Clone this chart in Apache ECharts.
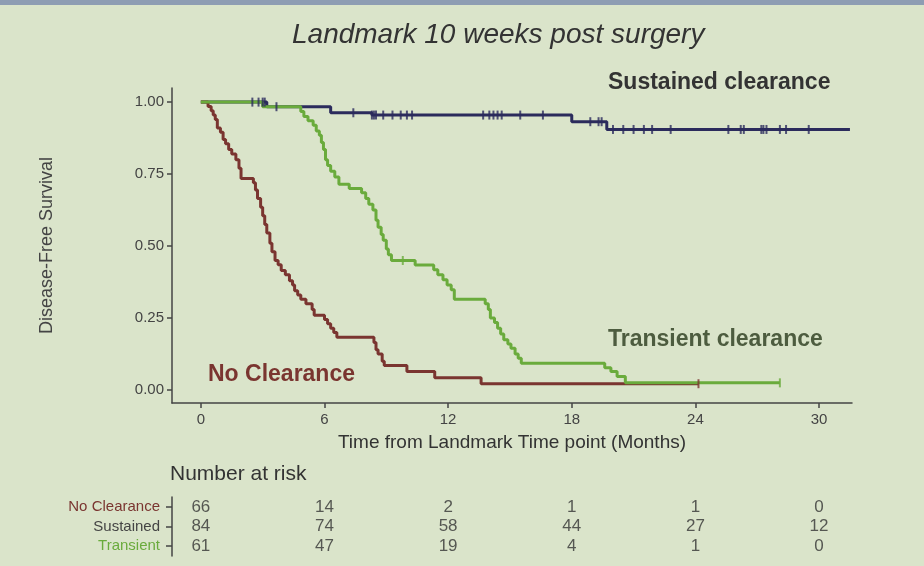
<!DOCTYPE html>
<html>
<head>
<meta charset="utf-8">
<script src="https://cdn.jsdelivr.net/npm/echarts@6/dist/echarts.min.js"></script>
<style>
  html, body { margin: 0; padding: 0; background: #d9e3c9; }
  #chart { width: 924px; height: 566px; }
</style>
</head>
<body>
<div id="chart"></div>
<script>
// Kaplan-Meier step data
const noClearanceTime = [0, 0.35, 0.5, 0.6, 0.7, 0.8, 0.95, 1.08, 1.2, 1.35, 1.5, 1.7, 1.85, 1.95, 2.55, 2.65, 2.75, 2.9, 3.0, 3.1, 3.2, 3.35, 3.45, 3.6, 3.75, 3.9, 4.1, 4.3, 4.45, 4.55, 4.7, 4.85, 5.1, 5.4, 5.5, 6.0, 6.15, 6.3, 6.45, 6.6, 8.4, 8.5, 8.6, 8.8, 8.9, 10.0, 11.35, 13.6, 24.15];
const noClearanceSurv = [1, 0.985, 0.97, 0.955, 0.94, 0.91, 0.895, 0.87, 0.855, 0.835, 0.82, 0.8, 0.77, 0.735, 0.72, 0.695, 0.665, 0.635, 0.605, 0.575, 0.545, 0.51, 0.48, 0.45, 0.435, 0.415, 0.4, 0.38, 0.365, 0.345, 0.33, 0.315, 0.3, 0.28, 0.26, 0.245, 0.23, 0.215, 0.2, 0.183, 0.165, 0.14, 0.125, 0.1, 0.085, 0.064, 0.043, 0.022, 0.022];

const sustainedTime = [0, 3.2, 6.3, 8.3, 18.0, 19.7, 31.5];
const sustainedSurv = [1, 0.984, 0.963, 0.955, 0.932, 0.905, 0.905];

const transientTime = [0, 3.0, 4.85, 5.0, 5.2, 5.45, 5.6, 5.75, 5.85, 5.95, 6.05, 6.15, 6.3, 6.5, 6.7, 7.2, 7.8, 8.0, 8.15, 8.35, 8.5, 8.6, 8.75, 8.85, 9.0, 9.1, 9.25, 10.4, 11.3, 11.5, 11.75, 11.95, 12.15, 12.3, 13.8, 13.95, 14.05, 14.25, 14.4, 14.55, 14.7, 14.9, 15.05, 15.25, 15.4, 15.55, 19.6, 19.9, 20.2, 20.6, 28.1];
const transientSurv = [1, 0.984, 0.967, 0.95, 0.935, 0.92, 0.9, 0.885, 0.86, 0.835, 0.8, 0.78, 0.76, 0.74, 0.715, 0.7, 0.685, 0.665, 0.645, 0.625, 0.59, 0.565, 0.54, 0.52, 0.49, 0.47, 0.45, 0.434, 0.418, 0.4, 0.383, 0.365, 0.348, 0.315, 0.3, 0.28, 0.25, 0.235, 0.215, 0.195, 0.175, 0.16, 0.145, 0.125, 0.11, 0.093, 0.077, 0.064, 0.047, 0.025, 0.025];

// censoring times
const noClearanceCensor = [24.15];
const sustainedCensor = [2.5, 2.8, 3.0, 3.1, 3.67, 7.4, 8.3, 8.4, 8.5, 8.85, 9.3, 9.7, 10.0, 10.25, 13.7, 14.0, 14.2, 14.4, 14.6, 15.5, 16.6, 18.9, 19.3, 19.45, 20.0, 20.5, 21.0, 21.5, 21.9, 22.8, 25.6, 26.2, 26.35, 27.2, 27.3, 27.45, 28.1, 28.4, 29.5];
const transientCensor = [9.8, 28.1];

// number at risk table
const riskMonths = [0, 6, 12, 18, 24, 30];
const riskGroups = ['No Clearance', 'Sustained', 'Transient'];
const riskNoClearance = [66, 14, 2, 1, 1, 0];
const riskSustained = [84, 74, 58, 44, 27, 12];
const riskTransient = [61, 47, 19, 4, 1, 0];

const xTicks = [0, 6, 12, 18, 24, 30];
const yTicks = [0, 0.25, 0.5, 0.75, 1];

const RED = '#7a3530', NAVY = '#2b2b5c', GREEN = '#6aab3c';
const FONT = "'Liberation Sans', Arial, sans-serif";

function pairs(t, s) { return t.map((v, i) => [v, s[i]]); }
function survAt(t, s, x) {
  let v = s[0];
  for (let i = 0; i < t.length; i++) if (t[i] <= x) v = s[i];
  return v;
}
function censorPts(c, t, s) { return c.map(x => [x, survAt(t, s, x)]); }

const riskRows = [riskNoClearance, riskSustained, riskTransient];
const riskData = [];
riskGroups.forEach((g, gi) => riskMonths.forEach((m, i) => riskData.push([m, g, riskRows[gi][i]])));

const X_MIN = -1.4, X_MAX = 31.6;

function kmLine(name, t, s, color, z) {
  return { name, type: 'line', step: 'end', data: pairs(t, s), symbol: 'none', z,
    lineStyle: { color, width: 3 }, animation: false };
}
function censor(c, t, s, color, z) {
  return { type: 'scatter', data: censorPts(c, t, s), symbol: 'rect', symbolSize: [2, 9], z,
    itemStyle: { color }, animation: false };
}

const chart = echarts.init(document.getElementById('chart'));
chart.setOption({
  backgroundColor: '#dae4ca',
  animation: false,
  title: {
    text: 'Landmark 10 weeks post surgery',
    left: 287, top: 16,
    textStyle: { fontFamily: FONT, fontStyle: 'italic', fontWeight: 'normal', fontSize: 28, color: '#333' }
  },
  graphic: [
    { type: 'rect', left: 0, top: 0, shape: { width: 924, height: 5 }, style: { fill: '#8e9db3' } },
    { type: 'text', left: 608, top: 71, style: { text: 'Sustained clearance', font: "bold 23px 'Liberation Sans', Arial", fill: '#333' } },
    { type: 'text', left: 608, top: 328, style: { text: 'Transient clearance', font: "bold 23px 'Liberation Sans', Arial", fill: '#4d5c3f' } },
    { type: 'text', left: 208, top: 363, style: { text: 'No Clearance', font: "bold 23px 'Liberation Sans', Arial", fill: RED } },
    { type: 'text', left: 170, top: 464, style: { text: 'Number at risk', font: "21px 'Liberation Sans', Arial", fill: '#333' } }
  ],
  grid: [
    { left: 172, right: 72, top: 88, bottom: 163 },
    { left: 172, right: 72, top: 497, height: 59 }
  ],
  xAxis: [
    {
      type: 'value', gridIndex: 0, min: X_MIN, max: X_MAX,
      name: 'Time from Landmark Time point (Months)', nameLocation: 'middle', nameGap: 30,
      nameTextStyle: { fontFamily: FONT, fontSize: 19, color: '#333' },
      splitLine: { show: false },
      axisLine: { onZero: false, lineStyle: { color: '#444', width: 1.5 } },
      axisTick: { customValues: xTicks, length: 5, lineStyle: { color: '#444', width: 1.5 } },
      axisLabel: { customValues: xTicks, fontFamily: FONT, fontSize: 15, color: '#444', margin: 9 }
    },
    { type: 'value', gridIndex: 1, min: X_MIN, max: X_MAX, show: false }
  ],
  yAxis: [
    {
      type: 'value', gridIndex: 0, min: -0.045, max: 1.049,
      name: 'Disease-Free Survival', nameLocation: 'middle', nameGap: 116, nameRotate: 90,
      nameTextStyle: { fontFamily: FONT, fontSize: 18, color: '#444' },
      splitLine: { show: false },
      axisLine: { show: true, onZero: false, lineStyle: { color: '#444', width: 1.5 } },
      axisTick: { show: true, customValues: yTicks, length: 5, lineStyle: { color: '#444', width: 1.5 } },
      axisLabel: { customValues: yTicks, formatter: v => v.toFixed(2), fontFamily: FONT, fontSize: 15, color: '#444', margin: 8 }
    },
    {
      type: 'category', gridIndex: 1, data: riskGroups, inverse: true,
      axisLine: { show: true, onZero: false, lineStyle: { color: '#444', width: 1.5 } },
      axisTick: { show: true, alignWithLabel: true, interval: 0, length: 6, lineStyle: { color: '#444', width: 1.5 } },
      axisLabel: {
        margin: 12, interval: 0, fontFamily: FONT, fontSize: 15,
        formatter: v => '{' + ['nc', 'su', 'tr'][riskGroups.indexOf(v)] + '|' + v + '}',
        rich: {
          nc: { color: RED, fontFamily: FONT, fontSize: 15 },
          su: { color: '#444', fontFamily: FONT, fontSize: 15 },
          tr: { color: GREEN, fontFamily: FONT, fontSize: 15 }
        }
      }
    }
  ],
  series: [
    kmLine('Sustained', sustainedTime, sustainedSurv, NAVY, 3),
    kmLine('No Clearance', noClearanceTime, noClearanceSurv, RED, 4),
    kmLine('Transient', transientTime, transientSurv, GREEN, 5),
    censor(sustainedCensor, sustainedTime, sustainedSurv, NAVY, 6),
    censor(noClearanceCensor, noClearanceTime, noClearanceSurv, RED, 6),
    censor(transientCensor, transientTime, transientSurv, GREEN, 6),
    {
      type: 'scatter', xAxisIndex: 1, yAxisIndex: 1, data: riskData, symbolSize: 0,
      label: { show: true, position: 'inside', formatter: p => String(p.value[2]),
        fontFamily: FONT, fontSize: 17, color: '#333' },
      animation: false
    }
  ]
});
</script>
</body>
</html>
